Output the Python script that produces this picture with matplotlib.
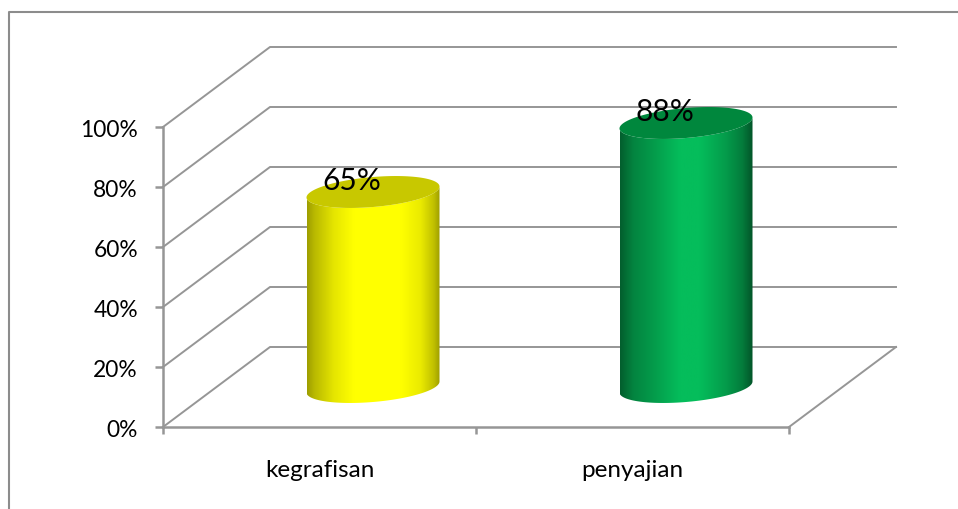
import numpy as np
from matplotlib import pyplot as plt
from matplotlib.colors import to_rgb
from matplotlib.lines import Line2D
from matplotlib.patches import Polygon
from matplotlib.transforms import ScaledTranslation

categories = ['kegrafisan', 'penyajian']
values = [65, 88]
value_labels = ['65%', '88%']
y_ticks = [0, 20, 40, 60, 80, 100]

body_colors = ['#ffff00', '#05bd5b']
top_colors = ['#c8c800', '#00873d']
line_color = '#969696'

# left to right shading of each cylinder
shade_x = [[0, 0.05, 0.2, 0.35, 0.7, 0.85, 0.95, 1], [0, 0.1, 0.25, 0.45, 0.6, 0.8, 0.92, 1]]
shade_y = [[0.62, 0.72, 0.9, 1, 1, 0.92, 0.75, 0.6], [0.5, 0.7, 0.82, 1, 1, 0.82, 0.66, 0.45]]

W, H = 958, 509
# depth of the fake 3d box, in data units
depth_x = 107 / 313
depth_y = 80 / 3
bar_width = 133 / 313
ell_b = 5.0
ell_tilt = 1.83


def ellipse(cx, cy, t):
    x = cx + bar_width / 2 * np.cos(t)
    y = cy + ell_b * np.sin(t) + ell_tilt * np.cos(t)
    return x, y


def shade(i):
    ramp = np.interp(np.linspace(0, 1, 200), shade_x[i], shade_y[i])
    return (ramp[:, None] * np.array(to_rgb(body_colors[i])))[None, :, :]


plt.rcParams['font.family'] = ['Lato', 'DejaVu Sans']
fig = plt.figure(figsize=(W / 100, H / 100), dpi=100)
ax = fig.add_axes([163 / W, (H - 427) / H, 626 / W, 300 / H])

# outer frame, only top and left show up
fig.add_artist(Line2D([9 / W, 9 / W, 1], [0, 1 - 12 / H, 1 - 12 / H], color='#8c8c8c', lw=1.5))

# walls
for v in y_ticks:
    ax.plot([0, depth_x, 2 + depth_x], [v, v + depth_y, v + depth_y], color=line_color,
            lw=1.4, clip_on=False, zorder=1)
ax.plot([2, 2 + depth_x], [0, depth_y], color=line_color, lw=1.4, clip_on=False, zorder=1)

# cylinders
for i, val in enumerate(values):
    cx = i + 0.5 + depth_x / 2
    base = depth_y / 2
    top = base + val

    t = np.linspace(np.pi, 2 * np.pi, 100)
    bx, by = ellipse(cx, base, t)
    tx, ty = ellipse(cx, top, t)
    outline = np.column_stack([np.r_[bx, tx[::-1]], np.r_[by, ty[::-1]]])
    im = ax.imshow(shade(i), extent=(cx - bar_width / 2, cx + bar_width / 2, 0, top + 10),
                   aspect='auto', interpolation='bilinear', zorder=3)
    im.set_clip_box(fig.bbox)
    im.set_clip_path(Polygon(outline, transform=ax.transData))

    t = np.linspace(0, 2 * np.pi, 200)
    ex, ey = ellipse(cx, top, t)
    ax.fill(ex, ey, color=top_colors[i], lw=0, clip_on=False, zorder=4)

    ax.annotate(value_labels[i], xy=(cx, top), xytext=(-15.5, 8), textcoords='offset points',
                ha='center', va='center', fontsize=21.5, color='black', annotation_clip=False, zorder=5)

ax.set_xlim(0, 2)
ax.set_ylim(0, 100)
ax.patch.set_visible(False)
for side in ['top', 'right']:
    ax.spines[side].set_visible(False)
for side in ['left', 'bottom']:
    ax.spines[side].set_color(line_color)
    ax.spines[side].set_linewidth(1.8)

ax.set_yticks(y_ticks)
ax.set_yticklabels([f'{v}%' for v in y_ticks], fontsize=16.4, color='black')
ax.tick_params(axis='y', length=6, width=1.8, color=line_color, pad=12)
for label in ax.get_yticklabels():
    label.set_transform(label.get_transform() + ScaledTranslation(0, -1.5 / 100, fig.dpi_scale_trans))
ax.set_xticks([0, 1, 2])
ax.set_xticklabels([])
ax.set_xticks([0.5, 1.5], minor=True)
ax.set_xticklabels(categories, minor=True, fontsize=17.5, color='black')
ax.tick_params(axis='x', which='major', length=5, width=1.8, color=line_color)
ax.tick_params(axis='x', which='minor', length=0, pad=24)

fig.savefig('out.png', dpi=100)
